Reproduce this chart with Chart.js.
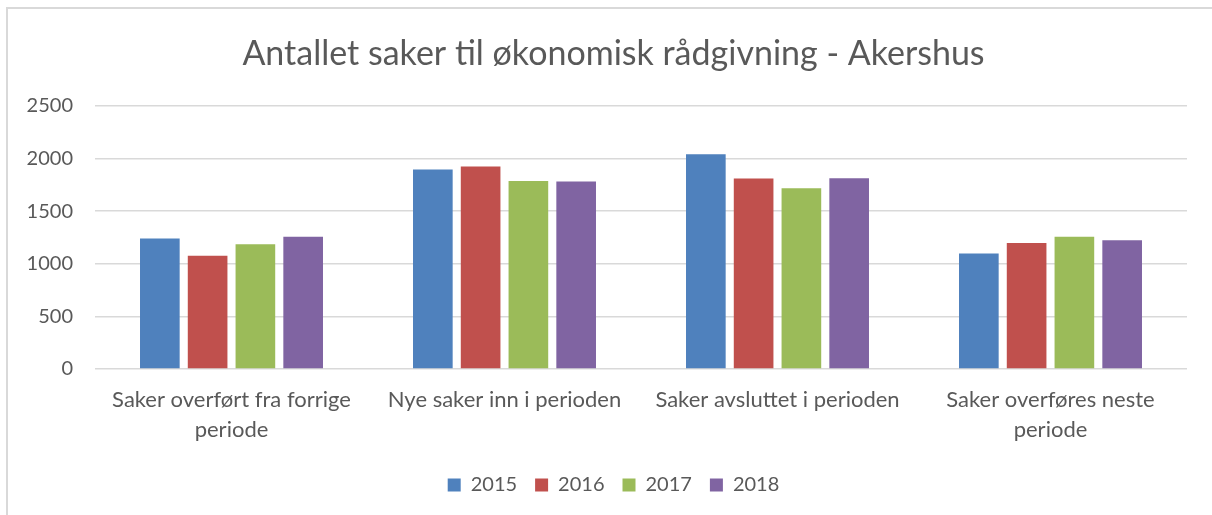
<!DOCTYPE html>
<html>
<head>
<meta charset="utf-8">
<script src="https://cdn.jsdelivr.net/npm/chart.js@4"></script>
<style>
  html, body { margin: 0; padding: 0; background: #fff; }
  #wrap { position: relative; width: 1212px; height: 515px; overflow: hidden; }
  #frame { position: absolute; left: 6px; top: 7px; width: 1300px; height: 600px;
           border-left: 2px solid #d9d9d9; border-top: 2px solid #d9d9d9; }
  canvas { position: absolute; left: 0; top: 0; }
</style>
</head>
<body>
<div id="wrap">
  <div id="frame"></div>
  <canvas id="sakerChart" width="1212" height="515"></canvas>
</div>
<script>
var categories = [
  ['Saker overført fra forrige', 'periode'],
  'Nye saker inn i perioden',
  'Saker avsluttet i perioden',
  ['Saker overføres neste', 'periode']
];
var years = ['2015', '2016', '2017', '2018'];
var v2015 = [1240, 1895, 2040, 1098];
var v2016 = [1076, 1923, 1810, 1196];
var v2017 = [1186, 1786, 1716, 1257];
var v2018 = [1257, 1780, 1812, 1224];
var colors = ['#4f81bd', '#c0504d', '#9bbb59', '#8064a2'];

var fontFam = 'Lato, "Open Sans", sans-serif';
var grey = '#595959';

// title and legend sit a bit right of the canvas centre in the original
var shiftBoxes = {
    id: 'shiftBoxes',
    afterLayout: function(chart) {
        [chart.titleBlock, chart.legend].forEach(function(b) {
            if (b) { b.left += 20; b.right += 20; }
        });
    }
};

var ctx = document.getElementById('sakerChart').getContext('2d');
var sakerChart = new Chart(ctx, {
    type: 'bar',
    data: {
        labels: categories,
        datasets: [v2015, v2016, v2017, v2018].map(function(vals, i) {
            return {
                label: years[i],
                data: vals,
                backgroundColor: colors[i],
                borderWidth: 0,
                categoryPercentage: 0.7,
                barPercentage: 0.83
            };
        })
    },
    plugins: [shiftBoxes],
    options: {
        responsive: false,
        animation: false,
        layout: { padding: { left: 0, right: 25, top: 0, bottom: 10 } },
        plugins: {
            title: {
                display: true,
                text: 'Antallet saker til økonomisk rådgivning - Akershus',
                color: grey,
                font: { family: fontFam, size: 34, weight: 'normal' },
                padding: { top: 34, bottom: 31 }
            },
            legend: {
                position: 'bottom',
                labels: {
                    color: grey,
                    font: { family: fontFam, size: 20 },
                    boxWidth: 13,
                    boxHeight: 13,
                    padding: 18
                }
            },
            tooltip: { enabled: false }
        },
        scales: {
            x: {
                grid: { display: false },
                border: { display: false },
                ticks: {
                    color: grey,
                    font: { family: fontFam, size: 22, lineHeight: 1.35 },
                    maxRotation: 0,
                    padding: 8
                },
                afterFit: function(scale) { scale.height = 88; }
            },
            y: {
                min: 0,
                max: 2500,
                ticks: {
                    stepSize: 500,
                    color: grey,
                    font: { family: fontFam, size: 20 },
                    padding: 22,
                    callback: function(v) { return String(v); }
                },
                grid: { color: '#d9d9d9', lineWidth: 1.5, drawTicks: false },
                border: { display: false },
                afterFit: function(scale) { scale.width = 95; }
            }
        }
    }
});
</script>
</body>
</html>
